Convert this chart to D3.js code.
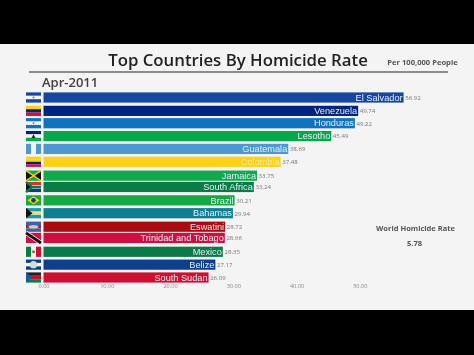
<!DOCTYPE html>
<html>
<head>
<meta charset="utf-8">
<script src="https://cdn.jsdelivr.net/npm/d3@7"></script>
<style>
  html, body { margin: 0; padding: 0; background: #000; }
  svg { display: block; filter: blur(0.3px); }
</style>
</head>
<body>
<div id="chart"></div>
<script>
var countries = ["El Salvador", "Venezuela", "Honduras", "Lesotho", "Guatemala", "Colombia", "Jamaica", "South Africa", "Brazil", "Bahamas", "Eswatini", "Trinidad and Tobago", "Mexico", "Belize", "South Sudan"]
var rates = [56.92, 49.74, 49.22, 45.49, 38.69, 37.48, 33.75, 33.24, 30.21, 29.94, 28.72, 28.66, 28.35, 27.17, 26.09]
// bars are caught mid-swap, so the rank is fractional
var ranks = [0, 1.04, 2, 3, 4, 5, 6.08, 6.96, 8, 9, 10.05, 10.92, 12, 13, 14]
var barColors = ["#1646a2", "#00237c", "#0f74bf", "#0aa64a", "#4f97cf", "#fcd116", "#10a94b", "#0b7c46", "#16a845", "#0f7f93", "#a80d14", "#cf0f40", "#0c7a48", "#0e3f8c", "#cd1030"]
var xTicks = [0, 10, 20, 30, 40, 50]

// horizontal stripes of each flag, top to bottom
var flagStripes = [
    ["#1646a2", "#f4f4f4", "#1646a2"],
    ["#fcd116", "#00237c", "#cf1040"],
    ["#0f74bf", "#f4f4f4", "#0f74bf"],
    ["#00237c", "#f4f4f4", "#0aa64a"],
    ["#f4f4f4"],
    ["#fcd116", "#fcd116", "#00237c", "#cf1040"],
    ["#10a94b"],
    ["#d8362a", "#f4f4f4", "#0b3c8c"],
    ["#16a845"],
    ["#1a9aa8", "#f0dc82", "#1a9aa8"],
    ["#3f5fa8", "#a8241c", "#3f5fa8"],
    ["#cf1040"],
    ["#f4f4f4"],
    ["#0e3f8c", "#f4f4f4", "#0e3f8c"],
    ["#222222", "#c8102e", "#0b7c46"]
]

var width = 474
var height = 355

var svg = d3.select("#chart")
    .append("svg")
    .attr("width", width)
    .attr("height", height)

svg.append("rect")
    .attr("width", width)
    .attr("height", height)
    .attr("fill", "#000")

svg.append("rect")
    .attr("y", 44)
    .attr("width", width)
    .attr("height", 266)
    .attr("fill", "#f4f4f4")

var x = d3.scaleLinear().domain([0, 50]).range([43.5, 359.8])
var y = d3.scaleLinear().domain([0, 14]).range([92.4, 272.4])
var barHeight = 10.2

svg.append("text")
    .attr("x", 238)
    .attr("y", 65.5)
    .attr("text-anchor", "middle")
    .style("font", "600 16.8px 'Open Sans'")
    .attr("fill", "#222")
    .text("Top Countries By Homicide Rate")

svg.append("text")
    .attr("x", 422.5)
    .attr("y", 65)
    .attr("text-anchor", "middle")
    .style("font", "700 7.6px 'Open Sans'")
    .attr("fill", "#555")
    .text("Per 100,000 People")

svg.append("line")
    .attr("x1", 29)
    .attr("x2", 448)
    .attr("y1", 72)
    .attr("y2", 72)
    .attr("stroke", "#8c8c8c")
    .attr("stroke-width", 1.8)

svg.append("text")
    .attr("x", 42)
    .attr("y", 87)
    .style("font", "600 13px 'Open Sans'")
    .attr("fill", "#404040")
    .text("Apr-2011")

var rows = svg.selectAll("g.row")
    .data(countries)
    .enter()
    .append("g")
    .attr("class", "row")
    .attr("transform", function(d, i) { return "translate(0," + y(ranks[i]) + ")" })

rows.append("rect")
    .attr("x", x(0))
    .attr("width", function(d, i) { return x(rates[i]) - x(0) })
    .attr("height", barHeight)
    .attr("fill", function(d, i) { return barColors[i] })

rows.append("text")
    .attr("x", function(d, i) { return x(rates[i]) - 1 })
    .attr("y", 8.3)
    .attr("text-anchor", "end")
    .style("font", "9.2px 'Liberation Sans'")
    .attr("fill", function(d) { return d == "Colombia" ? "#fbeea0" : "#e4edf6" })
    .text(function(d) { return d })

rows.append("text")
    .attr("x", function(d, i) { return x(rates[i]) + 1.6 })
    .attr("y", 7.4)
    .style("font", "6.1px 'Open Sans'")
    .attr("fill", "#777")
    .text(function(d, i) { return rates[i].toFixed(2) })

// flags
var flagWidth = 15
var flagX = 26
var flags = rows.append("g").attr("transform", "translate(" + flagX + ",0)")

flags.each(function(d, i) {
    var g = d3.select(this)
    var stripes = flagStripes[i]
    stripes.forEach(function(c, j) {
        g.append("rect")
            .attr("y", j * barHeight / stripes.length)
            .attr("width", flagWidth)
            .attr("height", barHeight / stripes.length)
            .attr("fill", c)
    })
    var tri = function(color, pts) {
        g.append("polygon").attr("points", pts).attr("fill", color)
    }
    var vbar = function(color, bx, bw) {
        g.append("rect").attr("x", bx).attr("width", bw).attr("height", barHeight).attr("fill", color)
    }
    if (d == "Guatemala") {
        vbar("#4f97cf", 0, 5)
        vbar("#4f97cf", 10, 5)
    }
    if (d == "Mexico") {
        vbar("#0c7a48", 0, 5)
        vbar("#cf1030", 10, 5)
        g.append("circle").attr("cx", 7.5).attr("cy", 5).attr("r", 1.5).attr("fill", "#8a6a3a")
    }
    if (d == "Jamaica") {
        tri("#111", "0,0 7.5,5.1 0,10.2")
        tri("#111", "15,0 7.5,5.1 15,10.2")
        g.append("path").attr("d", "M0,0L15,10.2M15,0L0,10.2").attr("stroke", "#fcd116").attr("stroke-width", 1.4)
    }
    if (d == "South Africa") {
        tri("#0b7c46", "0,0 7,5.1 0,10.2")
        g.append("path").attr("d", "M0,0L6,5.1L15,5.1M0,10.2L6,5.1").attr("stroke", "#0b7c46").attr("stroke-width", 2.4).attr("fill", "none")
        tri("#111", "0,1.5 4.5,5.1 0,8.7")
    }
    if (d == "Brazil") {
        tri("#fcd116", "1.5,5.1 7.5,1 13.5,5.1 7.5,9.2")
        g.append("circle").attr("cx", 7.5).attr("cy", 5.1).attr("r", 2.3).attr("fill", "#0e3f8c")
    }
    if (d == "Bahamas") {
        tri("#111", "0,0 6.5,5.1 0,10.2")
    }
    if (d == "Trinidad and Tobago") {
        g.append("path").attr("d", "M0,0L15,10.2").attr("stroke", "#f4f4f4").attr("stroke-width", 4.4)
        g.append("path").attr("d", "M0,0L15,10.2").attr("stroke", "#111").attr("stroke-width", 2.8)
    }
    if (d == "Eswatini") {
        g.append("ellipse").attr("cx", 7.5).attr("cy", 5.1).attr("rx", 5).attr("ry", 1.8).attr("fill", "#d8c8b8")
    }
    if (d == "Belize") {
        g.append("circle").attr("cx", 7.5).attr("cy", 5.1).attr("r", 3.6).attr("fill", "#cfe0d8")
    }
    if (d == "Honduras" || d == "El Salvador") {
        g.append("circle").attr("cx", 7.5).attr("cy", 5.1).attr("r", 0.9).attr("fill", "#4f7fb8")
    }
    if (d == "Lesotho") {
        tri("#222", "7.5,3.2 9.5,7 5.5,7")
    }
    if (d == "South Sudan") {
        tri("#0e5fa8", "0,0 6,5.1 0,10.2")
    }
})

// x axis, no domain line or tick marks in the reference
var xAxis = d3.axisBottom(x)
    .tickValues(xTicks)
    .tickSize(0)
    .tickFormat(d3.format(".2f"))

var axisG = svg.append("g")
    .attr("transform", "translate(0,281.5)")
    .call(xAxis)

axisG.select(".domain").remove()
axisG.selectAll("text")
    .style("font", "5.6px 'Open Sans'")
    .attr("fill", "#888")

svg.append("text")
    .attr("x", 415.5)
    .attr("y", 231)
    .attr("text-anchor", "middle")
    .style("font", "700 7.5px 'Open Sans'")
    .attr("fill", "#555")
    .text("World Homicide Rate")

svg.append("text")
    .attr("x", 414.5)
    .attr("y", 246)
    .attr("text-anchor", "middle")
    .style("font", "700 7.6px 'Open Sans'")
    .attr("fill", "#555")
    .text("5.78")
</script>
</body>
</html>
